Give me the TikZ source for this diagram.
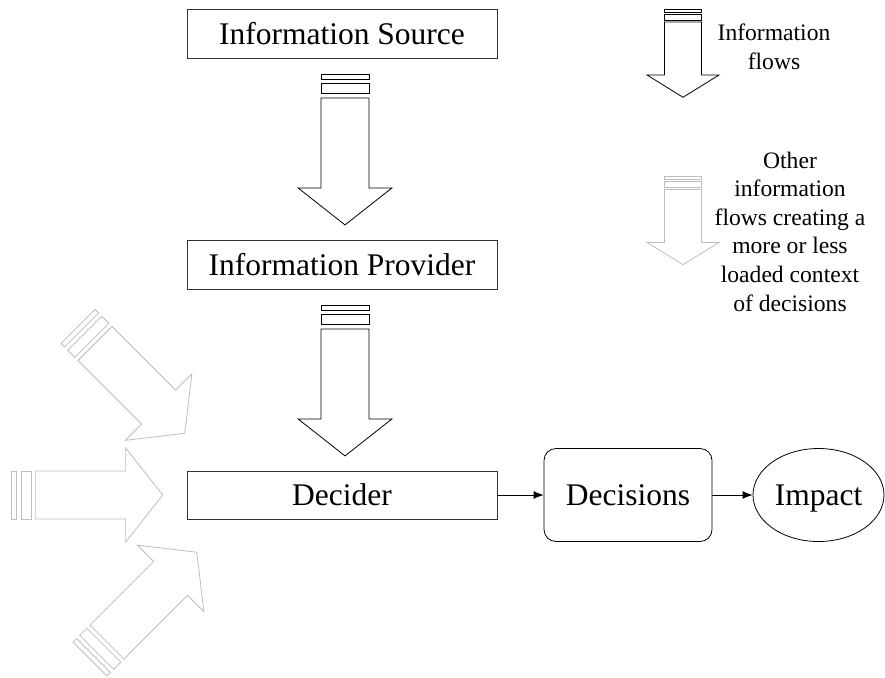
\documentclass[tikz,border=0pt]{standalone}
\usepackage{fontspec}
\setmainfont{Liberation Serif}
\usetikzlibrary{arrows.meta,calc,shapes.geometric}

\definecolor{flowgray}{RGB}{190,190,190}

\tikzset{
  box/.style={draw=black!80, minimum width=310pt, minimum height=49pt, inner sep=0pt,
    font=\fontsize{31.5}{36}\selectfont},
  roundbox/.style={draw=black, rounded corners=12pt, minimum width=168pt, minimum height=93pt,
    inner sep=0pt, font=\fontsize{31.5}{36}\selectfont},
  ovalbox/.style={draw=black, ellipse, minimum width=131pt, minimum height=93pt,
    inner sep=0pt, text height=21pt, text depth=0pt, font=\fontsize{31.5}{36}\selectfont},
  legend/.style={align=center, font=\fontsize{23.6}{28.6}\selectfont},
  link/.style={-{Latex[length=10pt,width=8pt]}, black},
  % big striped arrow, drawn along +x from its tail
  pics/bigflow/.style={code={
    \draw (0,-24) rectangle (5,24);
    \draw (9.5,-24) rectangle (19.5,24);
    \draw (24,-24) -- (114,-24) -- (114,-47) -- (151,0) -- (114,47) -- (114,24) -- (24,24) -- cycle;
  }},
  % small striped arrow for the key
  pics/smallflow/.style={code={
    \draw (0,-18.5) rectangle (3,18.5);
    \draw (5,-18.5) rectangle (10.7,18.5);
    \draw (12.7,-18.5) -- (65.7,-18.5) -- (65.7,-36) -- (88,0) -- (65.7,36) -- (65.7,18.5) -- (12.7,18.5) -- cycle;
  }},
}

\begin{document}
\begin{tikzpicture}[x=1pt, y=-1pt, line width=0.8pt]
\useasboundingbox (0,0) rectangle (885,677);

% chain of boxes
\node[box] (source) at (342,34) {Information Source};
\node[box] (provider) at (342,265) {Information Provider};
\node[box, minimum height=48pt] (decider) at (342,495) {Decider};
\node[roundbox] (decisions) at (628,495) {Decisions};
\node[ovalbox] (impact) at (818.5,495) {Impact};

\draw[link] (decider) -- (decisions);
\draw[link] (decisions) -- (impact);

% information flows between the boxes
\pic[black, rotate=-90] at ($(source.south)+(3,15)$) {bigflow};
\pic[black, rotate=-90] at ($(provider.south)+(3,15)$) {bigflow};

% other flows into the decider
\pic[flowgray, rotate=-45] at (78,326.5) {bigflow};
\pic[flowgray] at (11.7,495) {bigflow};
\pic[flowgray, rotate=45] at (90,659) {bigflow};

% key
\pic[black, rotate=-90] at (683,9.3) {smallflow};
\node[legend] (flowkey) at (774,47) {Information\\flows};
\pic[flowgray, rotate=-90] at (683,176.7) {smallflow};
\node[legend] (otherkey) at (790,231.5) {Other\\information\\flows creating a\\more or less\\loaded context\\of decisions};
\end{tikzpicture}
\end{document}
